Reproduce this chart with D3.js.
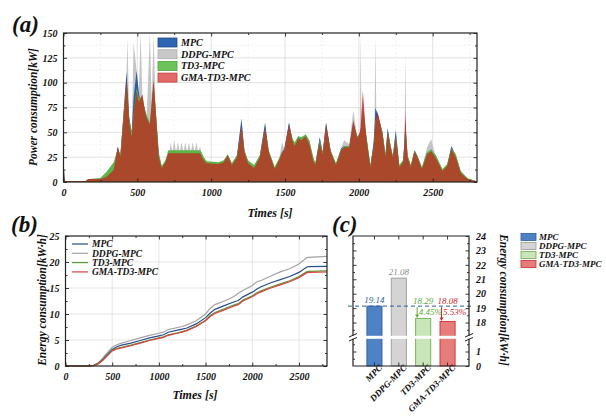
<!DOCTYPE html>
<html>
<head>
<meta charset="utf-8">
<script src="https://cdn.jsdelivr.net/npm/d3@7"></script>
<style>
body { margin: 0; background: #fff; }
svg { display: block; }
svg text { font-family: "Liberation Serif", "Times New Roman", serif; }
</style>
</head>
<body>
<svg id="fig" width="606" height="419"></svg>
<script>
// ---- data ----
var seriesNames = ['MPC', 'DDPG-MPC', 'TD3-MPC', 'GMA-TD3-MPC'];

// (a) power profile [kW]
var powerTimes = [0, 8, 150, 170, 250, 290, 340, 368, 385, 410,
    427, 433, 445, 462, 475, 495, 510, 522, 535, 548,
    562, 585, 597, 610, 625, 645, 665, 690, 710, 718,
    725, 737, 750, 762, 775, 787, 800, 812, 825, 837,
    850, 862, 875, 887, 900, 912, 925, 935, 950, 970,
    1050, 1085, 1112, 1140, 1175, 1205, 1225, 1250, 1290, 1330,
    1365, 1390, 1430, 1460, 1480, 1495, 1527, 1550, 1565, 1590,
    1610, 1640, 1665, 1690, 1705, 1735, 1755, 1778, 1810, 1845,
    1880, 1900, 1935, 1962, 1990, 2006, 2012, 2018, 2027, 2050, 2078, 2100,
    2106, 2112, 2118, 2128, 2160, 2180, 2195, 2215, 2230, 2250, 2274, 2300,
    2309, 2315, 2321, 2330, 2352, 2377, 2397, 2427, 2462, 2490, 2522, 2566,
    2598, 2627, 2657, 2690, 2735, 2790, 2800];

var mpcPower = [20, 1, 1, 3, 3, 6, 14, 35, 26, 75,
    111, 95, 65, 50, 85, 112, 90, 80, 82, 75,
    62, 55, 75, 100, 70, 28, 15, 20, 30, 30,
    30, 30, 30, 30, 30, 30, 30, 30, 30, 30,
    30, 30, 30, 30, 30, 30, 30, 28, 23, 20,
    19, 21, 27, 18, 27, 64, 32, 20, 15, 27,
    60, 30, 14, 23, 30, 33, 60, 43, 38, 46,
    43, 47, 40, 24, 18, 45, 30, 60, 30, 18,
    34, 36, 36, 60, 45, 48, 52, 58, 70, 46, 16, 40,
    55, 75, 72, 68, 50, 27, 54, 36, 26, 52, 16, 22,
    40, 62, 45, 26, 16, 32, 26, 14, 30, 32, 25, 12,
    17, 36, 26, 10, 3, 1, 0.5];

var ddpgPower = [20, 1, 1, 3, 3, 6, 14, 35, 26, 80,
    110, 145, 65, 50, 140, 112, 90, 150, 82, 75,
    62, 150, 80, 150, 70, 28, 15, 20, 30, 30,
    40, 30, 42, 30, 40, 30, 40, 30, 40, 30,
    40, 30, 40, 30, 40, 30, 36, 28, 23, 20,
    19, 21, 27, 18, 27, 60, 32, 20, 15, 27,
    58, 30, 14, 23, 40, 33, 60, 43, 38, 46,
    43, 47, 40, 24, 18, 45, 30, 60, 30, 18,
    34, 42, 38, 72, 45, 50, 150, 62, 85, 46, 16, 40,
    56, 147, 72, 70, 50, 27, 54, 36, 26, 52, 16, 22,
    40, 130, 45, 26, 16, 32, 26, 14, 35, 43, 25, 12,
    17, 37, 26, 10, 3, 1, 0.5];

var td3Power = [5, 1, 1, 3, 4, 10, 20, 34, 28, 75,
    100, 88, 62, 50, 70, 95, 85, 84, 86, 75,
    68, 60, 78, 100, 72, 30, 16, 22, 32, 32,
    32, 32, 32, 32, 32, 32, 32, 32, 32, 32,
    32, 32, 32, 32, 32, 32, 32, 30, 25, 21,
    20, 22, 28, 19, 27, 55, 32, 22, 17, 27,
    54, 32, 15, 24, 30, 32, 56, 44, 40, 46,
    45, 48, 42, 26, 19, 42, 30, 55, 32, 19,
    33, 36, 36, 58, 46, 48, 50, 60, 75, 48, 17, 36,
    48, 62, 64, 66, 50, 28, 50, 37, 27, 46, 17, 22,
    40, 60, 45, 27, 17, 32, 26, 15, 30, 33, 27, 13,
    18, 34, 28, 11, 4, 1, 0.5];

var gmaPower = [25, 1, 1, 3, 3, 5, 12, 36, 25, 70,
    105, 90, 60, 45, 70, 92, 80, 85, 88, 75,
    65, 58, 80, 103, 70, 25, 14, 20, 29, 29,
    29, 29, 29, 29, 29, 29, 29, 29, 29, 29,
    29, 29, 29, 29, 29, 29, 29, 26, 22, 19,
    18, 20, 27, 17, 25, 57, 30, 19, 14, 25,
    55, 30, 13, 22, 30, 32, 58, 42, 36, 44,
    42, 46, 38, 22, 17, 40, 28, 58, 30, 17,
    32, 35, 35, 62, 44, 50, 55, 70, 92, 45, 15, 35,
    47, 60, 66, 70, 48, 25, 50, 35, 25, 45, 15, 20,
    42, 71, 48, 25, 15, 31, 25, 13, 28, 31, 24, 11,
    16, 33, 25, 9, 3, 1, 0.5];

// (b) cumulative energy [kWh]
var energyTimes = [0, 250, 300, 350, 400, 450, 500, 550, 600, 700,
    800, 900, 1000, 1050, 1100, 1200, 1250, 1300, 1400, 1500,
    1550, 1600, 1700, 1800, 1850, 1900, 2000, 2050, 2100, 2200,
    2300, 2400, 2500, 2580, 2600, 2800];
var mpcEnergy = [0, 0, 0.1, 0.5, 1.3, 2.3, 3.2, 3.7, 4.0, 4.4,
    4.9, 5.4, 5.8, 6.0, 6.5, 6.9, 7.1, 7.3, 8.1, 9.3,
    10.2, 10.9, 11.6, 12.3, 12.6, 13.3, 14.2, 14.8, 15.3, 16.0,
    16.6, 17.2, 18.0, 19.0, 19.1, 19.14];
var ddpgEnergy = [0, 0, 0.1, 0.6, 1.5, 2.6, 3.6, 4.1, 4.4, 4.9,
    5.4, 5.9, 6.3, 6.5, 7.0, 7.4, 7.6, 7.9, 8.7, 10.0,
    11.1, 11.8, 12.5, 13.3, 14.0, 14.5, 15.5, 16.2, 16.5, 17.3,
    18.1, 18.7, 19.6, 20.8, 20.9, 21.08];
var td3Energy = [0, 0, 0.1, 0.5, 1.2, 2.1, 3.0, 3.4, 3.6, 4.0,
    4.5, 5.0, 5.4, 5.6, 6.0, 6.4, 6.6, 6.9, 7.7, 8.8,
    9.7, 10.3, 11.0, 11.7, 12.0, 12.7, 13.5, 14.1, 14.5, 15.2,
    15.8, 16.4, 17.2, 18.1, 18.2, 18.29];
var gmaEnergy = [0, 0, 0.05, 0.4, 1.1, 2.0, 2.9, 3.3, 3.5, 3.9,
    4.4, 4.9, 5.3, 5.5, 5.9, 6.3, 6.5, 6.8, 7.6, 8.7,
    9.5, 10.1, 10.8, 11.5, 11.8, 12.5, 13.3, 13.9, 14.3, 15.0,
    15.6, 16.2, 17.0, 17.9, 18.0, 18.08];

// (c) total energy [kWh] and savings vs MPC
var totalEnergy = [19.14, 21.08, 18.29, 18.08];
var savingLabels = ['', '', '4.45%', '5.53%'];

// ---- drawing ----
var svg = d3.select('#fig');
var serif = '"Liberation Serif", "Times New Roman", serif';

function styleText(sel, size, weight) {
    return sel.style('font-family', serif)
        .attr('font-size', size)
        .attr('font-style', 'italic')
        .attr('font-weight', weight || 'bold')
        .attr('fill', '#111');
}

function addAxis(axis, tx, ty) {
    var g = svg.append('g')
        .attr('transform', 'translate(' + tx + ',' + ty + ')')
        .call(axis);
    g.select('.domain').remove();
    g.selectAll('line').attr('stroke', '#222').attr('stroke-width', 0.9);
    styleText(g.selectAll('text'), 10);
    return g;
}

function frame(x0, y0, x1, y1) {
    svg.append('rect')
        .attr('x', x0).attr('y', y0)
        .attr('width', x1 - x0).attr('height', y1 - y0)
        .attr('fill', 'none')
        .attr('stroke', '#222')
        .attr('stroke-width', 1.2);
}

// mirrored inner ticks on all four sides
function boxTicks(x, y, xMajor, xMinor, yMajor, yMinor) {
    var x0 = x.range()[0], x1 = x.range()[1], y0 = y.range()[0], y1 = y.range()[1];
    addAxis(d3.axisBottom(x).tickValues(xMajor).tickSizeInner(-3.5).tickSizeOuter(0)
        .tickPadding(7).tickFormat(d3.format('d')), 0, y0);
    addAxis(d3.axisBottom(x).tickValues(xMinor).tickSizeInner(-2).tickSizeOuter(0).tickFormat(''), 0, y0);
    addAxis(d3.axisTop(x).tickValues(xMajor).tickSizeInner(-3.5).tickSizeOuter(0).tickFormat(''), 0, y1);
    addAxis(d3.axisTop(x).tickValues(xMinor).tickSizeInner(-2).tickSizeOuter(0).tickFormat(''), 0, y1);
    addAxis(d3.axisLeft(y).tickValues(yMajor).tickSizeInner(-3.5).tickSizeOuter(0)
        .tickPadding(6).tickFormat(d3.format('d')), x0, 0);
    addAxis(d3.axisLeft(y).tickValues(yMinor).tickSizeInner(-2).tickSizeOuter(0).tickFormat(''), x0, 0);
    addAxis(d3.axisRight(y).tickValues(yMajor).tickSizeInner(-3.5).tickSizeOuter(0).tickFormat(''), x1, 0);
    addAxis(d3.axisRight(y).tickValues(yMinor).tickSizeInner(-2).tickSizeOuter(0).tickFormat(''), x1, 0);
}

function grid(x, y, xVals, yVals, color, dash) {
    var g = svg.append('g');
    g.selectAll('.gx').data(xVals).enter().append('line')
        .attr('x1', function(d) { return x(d); }).attr('x2', function(d) { return x(d); })
        .attr('y1', y.range()[0]).attr('y2', y.range()[1])
        .attr('stroke', color).attr('stroke-width', 0.7).attr('stroke-dasharray', dash);
    g.selectAll('.gy').data(yVals).enter().append('line')
        .attr('y1', function(d) { return y(d); }).attr('y2', function(d) { return y(d); })
        .attr('x1', x.range()[0]).attr('x2', x.range()[1])
        .attr('stroke', color).attr('stroke-width', 0.7).attr('stroke-dasharray', dash);
}

// ===== (a) =====
var xA = d3.scaleLinear().domain([0, 2800]).range([63.5, 477]);
var yA = d3.scaleLinear().domain([0, 150]).range([182, 33]);

grid(xA, yA, d3.range(250, 2800, 500), d3.range(12.5, 150, 25), '#ececec', '2,2');
grid(xA, yA, d3.range(500, 2800, 500), d3.range(25, 150, 25), '#d6d6d6', null);

svg.append('clipPath').attr('id', 'clipA').append('rect')
    .attr('x', 63.5).attr('y', 33).attr('width', 413.5).attr('height', 149);

var powerSeries = [
    { vals: ddpgPower, fill: '#c4c4c4', op: 1 },
    { vals: mpcPower, fill: '#2a5caa', op: 1 },
    { vals: td3Power, fill: '#5cb548', op: 1 },
    { vals: gmaPower, fill: '#c81e1e', op: 0.72 }
];

var areaA = svg.append('g').attr('clip-path', 'url(#clipA)');
powerSeries.forEach(function(s) {
    var area = d3.area()
        .x(function(d, i) { return xA(powerTimes[i]); })
        .y0(yA(0))
        .y1(function(d) { return yA(d); });
    areaA.append('path')
        .datum(s.vals)
        .attr('d', area)
        .attr('fill', s.fill)
        .attr('fill-opacity', s.op);
});

boxTicks(xA, yA, d3.range(0, 2501, 500), d3.range(250, 2800, 500),
    d3.range(0, 151, 25), d3.range(12.5, 150, 25));
frame(63.5, 33, 477, 182);

var legA = [
    { name: seriesNames[0], fill: '#2e64b0', stroke: '#1f4c8c' },
    { name: seriesNames[1], fill: '#c8c8c8', stroke: '#b0b0b0' },
    { name: seriesNames[2], fill: '#6cc35a', stroke: '#4ea23c' },
    { name: seriesNames[3], fill: '#e26a6a', stroke: '#c83a3a' }
];
var legAg = svg.append('g');
legAg.selectAll('rect').data(legA).enter().append('rect')
    .attr('x', 158).attr('y', function(d, i) { return 38 + i * 11.7; })
    .attr('width', 19).attr('height', 9)
    .attr('fill', function(d) { return d.fill; })
    .attr('stroke', function(d) { return d.stroke; })
    .attr('stroke-width', 0.8);
styleText(legAg.selectAll('text').data(legA).enter().append('text')
    .attr('x', 181).attr('y', function(d, i) { return 42.5 + i * 11.7; })
    .attr('dy', '0.35em')
    .text(function(d) { return d.name; }), 10);

styleText(svg.append('text').attr('transform', 'translate(37,107) rotate(-90)')
    .attr('text-anchor', 'middle').text('Power consumption[kW]'), 11.5);
styleText(svg.append('text').attr('x', 270).attr('y', 217)
    .attr('text-anchor', 'middle').text('Times [s]'), 12);
styleText(svg.append('text').attr('x', 12).attr('y', 32).text('(a)'), 23);

// ===== (b) =====
var xB = d3.scaleLinear().domain([0, 2800]).range([65.5, 327]);
var yB = d3.scaleLinear().domain([0, 25]).range([366, 236]);

grid(xB, yB, d3.range(500, 2800, 500), d3.range(5, 25, 5), '#dcdcdc', null);

var energySeries = [
    { name: seriesNames[0], vals: mpcEnergy, color: '#2b4d8c' },
    { name: seriesNames[1], vals: ddpgEnergy, color: '#a3a3a3' },
    { name: seriesNames[2], vals: td3Energy, color: '#5c9a3a' },
    { name: seriesNames[3], vals: gmaEnergy, color: '#d9423e' }
];
var lineB = d3.line()
    .x(function(d, i) { return xB(energyTimes[i]); })
    .y(function(d) { return yB(d); });
[1, 0, 2, 3].forEach(function(k) {
    svg.append('path')
        .datum(energySeries[k].vals)
        .attr('d', lineB)
        .attr('fill', 'none')
        .attr('stroke', energySeries[k].color)
        .attr('stroke-width', 1.2);
});

boxTicks(xB, yB, d3.range(0, 2501, 500), d3.range(250, 2800, 500),
    d3.range(0, 26, 5), d3.range(2.5, 25, 5));
frame(65.5, 236, 327, 366);

var legBg = svg.append('g');
legBg.selectAll('line').data(energySeries).enter().append('line')
    .attr('x1', 72).attr('x2', 88)
    .attr('y1', function(d, i) { return 244 + i * 9.3; })
    .attr('y2', function(d, i) { return 244 + i * 9.3; })
    .attr('stroke', function(d) { return d.color; })
    .attr('stroke-width', 1.2);
styleText(legBg.selectAll('text').data(energySeries).enter().append('text')
    .attr('x', 92).attr('y', function(d, i) { return 244 + i * 9.3; })
    .attr('dy', '0.35em')
    .text(function(d) { return d.name; }), 9.5);

styleText(svg.append('text').attr('transform', 'translate(46,300) rotate(-90)')
    .attr('text-anchor', 'middle').text('Energy consumption[kW·h]'), 11.5);
styleText(svg.append('text').attr('x', 195).attr('y', 399)
    .attr('text-anchor', 'middle').text('Times [s]'), 12);
styleText(svg.append('text').attr('x', 11).attr('y', 232).text('(b)'), 23);

// ===== (c) =====
var xC = d3.scaleBand().domain(seriesNames).range([353, 469])
    .paddingInner(0.38).paddingOuter(0.57);
var yLow = d3.scaleLinear().domain([0, 2]).range([366, 337]);
var yHigh = d3.scaleLinear().domain([17, 24]).range([337, 236]);

var barStyle = [
    { fill: '#4f82c4', stroke: '#2d5e9e', text: '#2d5e9e' },
    { fill: '#d4d4d4', stroke: '#9a9a9a', text: '#8a8a8a' },
    { fill: '#c8e6b9', stroke: '#6cb04e', text: '#5ea83e' },
    { fill: '#e67c7c', stroke: '#c83232', text: '#cc2b2b' }
];

svg.append('g').selectAll('rect').data(totalEnergy).enter().append('rect')
    .attr('x', function(d, i) { return xC(seriesNames[i]); })
    .attr('y', function(d) { return yHigh(d); })
    .attr('width', xC.bandwidth())
    .attr('height', function(d) { return yLow(0) - yHigh(d); })
    .attr('fill', function(d, i) { return barStyle[i].fill; })
    .attr('stroke', function(d, i) { return barStyle[i].stroke; })
    .attr('stroke-width', 0.9);

// axis break gap
svg.append('rect').attr('x', 347).attr('y', 335.8).attr('width', 128).attr('height', 3)
    .attr('fill', '#fff');

// reference line at MPC value
svg.append('line')
    .attr('x1', 348).attr('x2', 474)
    .attr('y1', yHigh(totalEnergy[0])).attr('y2', yHigh(totalEnergy[0]))
    .attr('stroke', '#2d5e9e').attr('stroke-width', 1).attr('stroke-dasharray', '4,3');

// frame pieces (broken at the gap)
var cf = svg.append('g').attr('stroke', '#222').attr('stroke-width', 1.2).attr('fill', 'none');
cf.append('path').attr('d', 'M353,335.8 V236 H469 V335.8');
cf.append('path').attr('d', 'M353,338.8 V366 H469 V338.8');
[353, 469].forEach(function(x) {
    cf.append('line').attr('x1', x - 4).attr('x2', x + 4).attr('y1', 337).attr('y2', 333.5).attr('stroke-width', 1);
    cf.append('line').attr('x1', x - 4).attr('x2', x + 4).attr('y1', 341).attr('y2', 337.5).attr('stroke-width', 1);
});

// ticks of (c)
addAxis(d3.axisLeft(yHigh).tickValues(d3.range(18, 24, 1)).tickSizeInner(-3.5).tickSizeOuter(0).tickFormat(''), 353, 0);
addAxis(d3.axisLeft(yHigh).tickValues(d3.range(17.5, 24, 1)).tickSizeInner(-2).tickSizeOuter(0).tickFormat(''), 353, 0);
addAxis(d3.axisLeft(yLow).tickValues([1]).tickSizeInner(-3.5).tickSizeOuter(0).tickFormat(''), 353, 0);
addAxis(d3.axisLeft(yLow).tickValues([0.5, 1.5]).tickSizeInner(-2).tickSizeOuter(0).tickFormat(''), 353, 0);
addAxis(d3.axisRight(yHigh).tickValues(d3.range(18, 25, 1)).tickSizeInner(-3.5).tickSizeOuter(0)
    .tickPadding(7).tickFormat(d3.format('d')), 469, 0);
addAxis(d3.axisRight(yHigh).tickValues(d3.range(17.5, 24, 1)).tickSizeInner(-2).tickSizeOuter(0).tickFormat(''), 469, 0);
addAxis(d3.axisRight(yLow).tickValues([0, 1]).tickSizeInner(-3.5).tickSizeOuter(0)
    .tickPadding(7).tickFormat(d3.format('d')), 469, 0);
addAxis(d3.axisRight(yLow).tickValues([0.5, 1.5]).tickSizeInner(-2).tickSizeOuter(0).tickFormat(''), 469, 0);
addAxis(d3.axisTop(xC).tickSizeInner(-3.5).tickSizeOuter(0).tickFormat(''), 0, 236);
var catAxis = addAxis(d3.axisBottom(xC).tickSizeInner(-3.5).tickSizeOuter(0), 0, 366);
catAxis.selectAll('text')
    .attr('font-size', 9)
    .attr('text-anchor', 'end')
    .attr('transform', 'translate(4,-2) rotate(-45)')
    .attr('dy', '0.35em');

// value labels
styleText(svg.append('g').selectAll('text').data(totalEnergy).enter().append('text')
    .attr('x', function(d, i) { return xC(seriesNames[i]) + xC.bandwidth() / 2; })
    .attr('y', function(d, i) { return i < 2 ? yHigh(d) - 3.5 : yHigh(totalEnergy[0]) - 2.5; })
    .attr('text-anchor', 'middle')
    .text(function(d) { return d.toFixed(2); }), 9, 'normal')
    .attr('fill', function(d, i) { return barStyle[i].text; });

// saving arrows and percentages
[2, 3].forEach(function(i) {
    var ax = xC(seriesNames[i]) + 1.5;
    var y0 = yHigh(totalEnergy[0]) + 1;
    var y1 = yHigh(totalEnergy[i]) - 0.5;
    var c = barStyle[i].text;
    svg.append('line').attr('x1', ax).attr('x2', ax).attr('y1', y0).attr('y2', y1 - 2.5)
        .attr('stroke', c).attr('stroke-width', 1);
    svg.append('path')
        .attr('d', 'M' + (ax - 2) + ',' + (y1 - 3.5) + ' L' + (ax + 2) + ',' + (y1 - 3.5) + ' L' + ax + ',' + y1 + 'Z')
        .attr('fill', c);
    styleText(svg.append('text').attr('x', ax + 1.5).attr('y', y0 + 7.5)
        .text(savingLabels[i]), 9, 'normal').attr('fill', c);
});

// legend (c)
var legCg = svg.append('g');
legCg.selectAll('rect').data(seriesNames).enter().append('rect')
    .attr('x', 521).attr('y', function(d, i) { return 233.5 + i * 9; })
    .attr('width', 15).attr('height', 7)
    .attr('fill', function(d, i) { return barStyle[i].fill; })
    .attr('stroke', function(d, i) { return barStyle[i].stroke; })
    .attr('stroke-width', 0.8);
styleText(legCg.selectAll('text').data(seriesNames).enter().append('text')
    .attr('x', 539).attr('y', function(d, i) { return 237 + i * 9; })
    .attr('dy', '0.35em')
    .text(function(d) { return d; }), 9);

styleText(svg.append('text').attr('transform', 'translate(500,300) rotate(90)')
    .attr('text-anchor', 'middle').text('Energy consumption[kW·h]'), 11.5);
styleText(svg.append('text').attr('x', 332).attr('y', 232).text('(c)'), 23);
</script>
</body>
</html>
